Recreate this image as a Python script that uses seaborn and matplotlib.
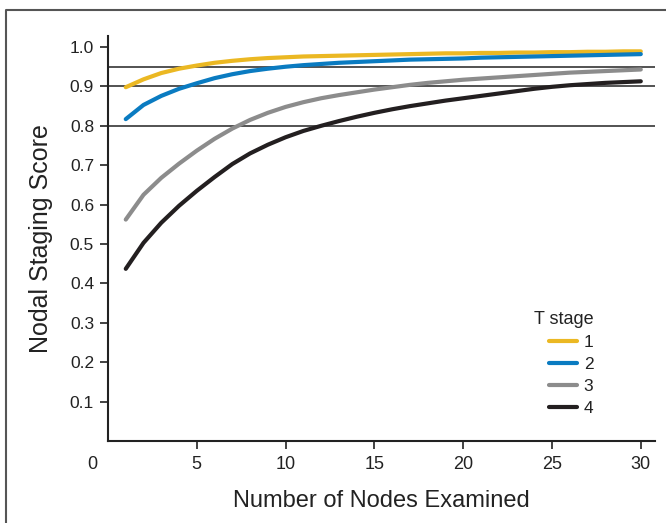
import matplotlib
matplotlib.use("Agg")
import matplotlib.pyplot as plt
import matplotlib.lines as mlines
import matplotlib.transforms as mtransforms
import seaborn as sns
import pandas as pd

# ---- data ----
nodes = list(range(1, 31))
t1 = [0.898, 0.918, 0.934, 0.945, 0.953, 0.960, 0.965, 0.969, 0.972, 0.974,
      0.976, 0.977, 0.978, 0.979, 0.980, 0.981, 0.982, 0.983, 0.984, 0.984,
      0.985, 0.985, 0.986, 0.986, 0.987, 0.987, 0.988, 0.988, 0.989, 0.989]
t2 = [0.817, 0.853, 0.876, 0.894, 0.908, 0.921, 0.931, 0.939, 0.945, 0.950,
      0.954, 0.957, 0.960, 0.962, 0.964, 0.966, 0.968, 0.969, 0.970, 0.971,
      0.973, 0.974, 0.975, 0.976, 0.977, 0.978, 0.979, 0.980, 0.981, 0.982]
t3 = [0.562, 0.625, 0.668, 0.704, 0.737, 0.767, 0.793, 0.815, 0.833, 0.848,
      0.860, 0.870, 0.878, 0.885, 0.892, 0.898, 0.904, 0.909, 0.913, 0.917,
      0.920, 0.923, 0.926, 0.929, 0.932, 0.935, 0.937, 0.939, 0.941, 0.943]
t4 = [0.437, 0.503, 0.554, 0.597, 0.635, 0.670, 0.703, 0.730, 0.752, 0.771,
      0.787, 0.800, 0.812, 0.823, 0.833, 0.842, 0.850, 0.857, 0.864, 0.870,
      0.876, 0.882, 0.888, 0.894, 0.899, 0.903, 0.906, 0.909, 0.911, 0.913]
stages = ["1", "2", "3", "4"]
ref_levels = [0.95, 0.90, 0.80]
yticks = [0.1, 0.2, 0.3, 0.4, 0.5, 0.6, 0.7, 0.8, 0.9, 1.0]
xticks = [0, 5, 10, 15, 20, 25, 30]

colors = ["#EBB823", "#0A7BC1", "#8C8C8C", "#231F20"]

rows = []
for s, vals in zip(stages, [t1, t2, t3, t4]):
    for n, v in zip(nodes, vals):
        rows.append({"Nodes": n, "Score": v, "T stage": s})
df = pd.DataFrame(rows)

sns.set_theme(style="white")
plt.rcParams['font.family'] = ['Liberation Sans', 'DejaVu Sans']

W, H = 666, 523
fig = plt.figure(figsize=(W / 100, H / 100), dpi=100)
ax = fig.add_axes([108 / W, 1 - 441 / H, (655 - 108) / W, (441 - 36) / H])

for lvl in ref_levels:
    ax.axhline(lvl, color="#444444", lw=1.3, zorder=1)

sns.lineplot(data=df, x="Nodes", y="Score", hue="T stage", hue_order=stages,
             palette=colors, linewidth=3.0, ax=ax, zorder=3,
             solid_capstyle="round")

ax.set_xlim(0, 30.8)
ax.set_ylim(0, 1.028)
ax.set_xticks(xticks)
ax.set_xticklabels([str(x) for x in xticks], fontsize=13, color="#222222")
ax.set_yticks(yticks)
ax.set_yticklabels([f"{y:.1f}" for y in yticks], fontsize=12.5, color="#222222")

for side in ["top", "right"]:
    ax.spines[side].set_visible(False)
for side in ["left", "bottom"]:
    ax.spines[side].set_color("#222222")
    ax.spines[side].set_linewidth(1.5)

ax.tick_params(axis="both", which="major", bottom=True, left=True, direction="out",
               length=6, width=1.2, color="#222222")
ax.tick_params(axis="x", pad=5)
ax.tick_params(axis="y", pad=4)

# "0" label sits left of the y axis, no tick mark
ax.xaxis.get_major_ticks()[0].tick1line.set_visible(False)
lab0 = ax.get_xticklabels()[0]
lab0.set_transform(lab0.get_transform() +
                   mtransforms.ScaledTranslation(-16 / 100, 0, fig.dpi_scale_trans))

ax.set_xlabel("Number of Nodes Examined", fontsize=17,
              color="#222222", labelpad=12)
ax.set_ylabel("Nodal Staging Score", fontsize=18,
              color="#222222", labelpad=12)

leg = ax.legend(title="T stage", loc="upper left", bbox_to_anchor=(0.75, 0.36),
                frameon=False, fontsize=12.5, title_fontsize=13, handlelength=1.6,
                handletextpad=0.4, labelspacing=0.4, alignment="right")
leg.get_title().set_color("#222222")
for t in leg.get_texts():
    t.set_color("#222222")
for line in leg.get_lines():
    line.set_linewidth(3.0)

# partial frame around the figure
fig.add_artist(mlines.Line2D([6 / W, 6 / W, 1.0], [0, 1 - 10 / H, 1 - 10 / H],
                             transform=fig.transFigure, color="#555555", lw=1.5))

fig.savefig("out.png", dpi=100)
